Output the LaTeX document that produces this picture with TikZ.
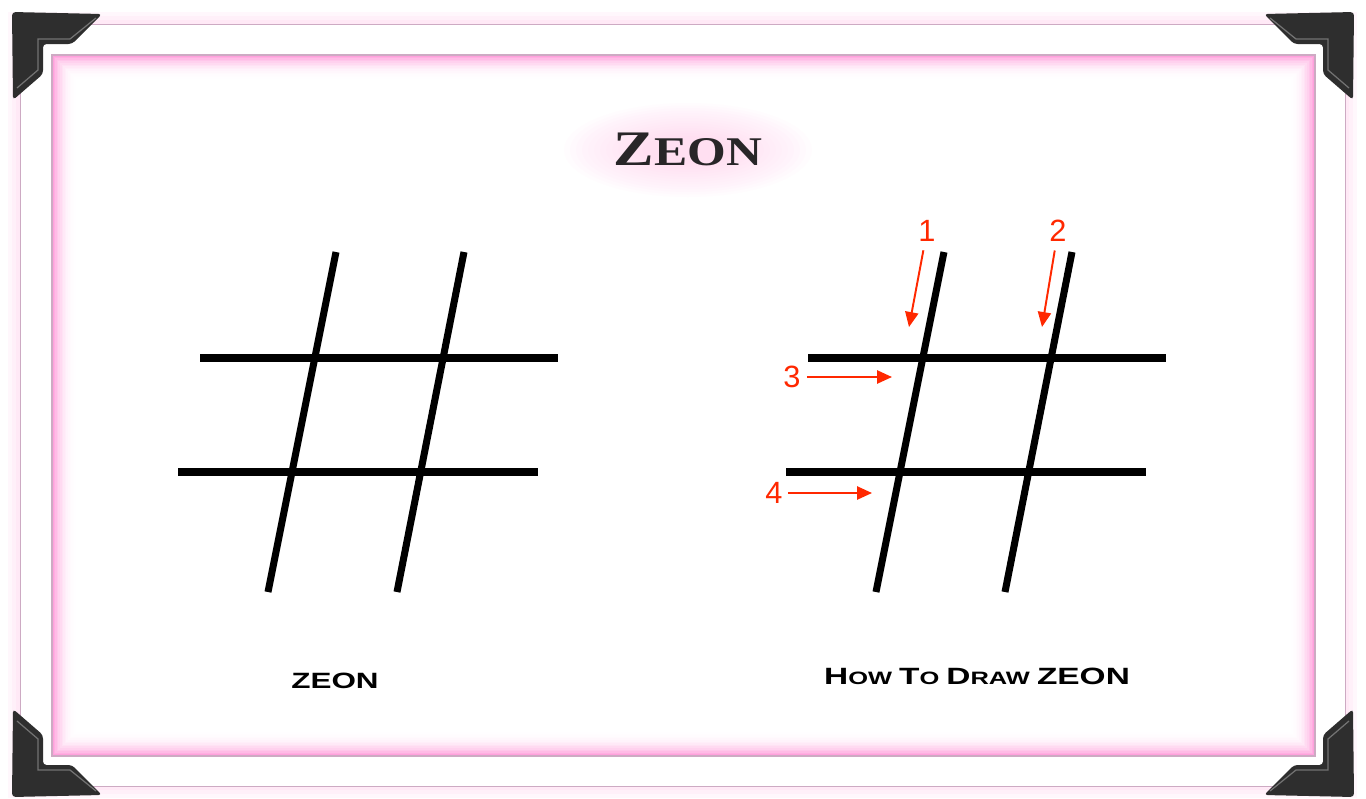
\documentclass[tikz,border=0pt]{standalone}
\usepackage{fontspec}
\setmainfont{Liberation Sans}
\newfontfamily\titlefont{Liberation Serif}[FakeStretch=1.22]
\newfontfamily\capfont{Liberation Sans}[FakeStretch=1.42]
\usetikzlibrary{arrows.meta, positioning}
\usepackage{xcolor}
\definecolor{glow}{RGB}{255,160,220}
\definecolor{rim}{RGB}{205,170,195}
\definecolor{mred}{RGB}{255,40,0}
\definecolor{ink}{RGB}{40,38,40}
\newcommand{\bigc}{\fontsize{13.4}{14}\selectfont}
\newcommand{\smallc}{\fontsize{10.2}{11}\selectfont}

\begin{document}
\begin{tikzpicture}[x=0.02cm, y=-0.02cm,
  bar/.style={line width=4pt},
  arr/.style={-{Triangle[length=8.5pt,width=7.5pt]},mred,line width=1.1pt},
  num/.style={text=mred,font=\fontsize{17.5}{18}\selectfont,inner sep=0pt},
  captext/.style={font=\capfont\bfseries,anchor=base,inner sep=0pt},
  bracket/.pic={
    \fill[black!82,rounded corners=2pt] (0,0) -- (90,2) -- (60,32) -- (31,32)
      -- (31,62) -- (1,88) -- cycle;
    \draw[black!55,line width=0.7pt] (84,6) -- (58,27) -- (26,27) -- (26,58) -- (5,76);
  }
]
\useasboundingbox (0,0) rectangle (1366,798);
\fill[white] (0,0) rectangle (1366,798);

% frame with glow
\foreach \w in {14,9,5}
  \draw[glow,opacity=0.08,line width=\w pt] (20,24) rectangle (1345,786);
\draw[rim,fill=white] (20,24) rectangle (1345,786);
\fill[glow] (52,55) rectangle (1315,756);
\foreach \i in {1,...,16}{
  \pgfmathsetmacro\c{100*(1-\i/16)^2.5}
  \pgfmathsetmacro\s{1.6*\i}
  \fill[glow!\c!white] (52+\s,55+\s) rectangle (1315-\s,756-\s);
}
\draw[rim,line width=0.6pt] (52,55) rectangle (1315,756);

\pic at (12,12) {bracket};
\pic[xscale=-1] at (1354,12) {bracket};
\pic[yscale=-1] at (12,797) {bracket};
\pic[rotate=180] at (1354,797) {bracket};

% title
\foreach \r in {1,...,14}
  \fill[glow,opacity=0.025] (688,150) ellipse ({40+6*\r} and {12+2.5*\r});
\node[font=\titlefont\bfseries,text=ink,anchor=base,inner sep=0pt] (title) at (688,165)
  {\fontsize{28.3}{29}\selectfont Z\fontsize{23.2}{24}\selectfont EON};

% the two symbols
\foreach \dx/\n in {0/a,608/b}{
  \begin{scope}[shift={(\dx,0)}]
    \coordinate (\n v1t) at (336,252); \coordinate (\n v1b) at (268,592);
    \coordinate (\n v2t) at (464,252); \coordinate (\n v2b) at (397,592);
    \coordinate (\n h1l) at (200,358); \coordinate (\n h1r) at (558,358);
    \coordinate (\n h2l) at (178,472); \coordinate (\n h2r) at (538,472);
  \end{scope}
  \draw[bar] (\n v1t) -- (\n v1b); \draw[bar] (\n v2t) -- (\n v2b);
  \draw[bar] (\n h1l) -- (\n h1r); \draw[bar] (\n h2l) -- (\n h2r);
}

% stroke order
\node[num] (n1) at (927,231) {1};
\node[num] (n2) at (1058,231) {2};
\node[num] (n3) at (792,377) {3};
\node[num] (n4) at (774,493) {4};
\coordinate (t1) at (909,327); \coordinate (t2) at (1042,327);
\coordinate (t3) at (892,377); \coordinate (t4) at (872,493);
\draw[arr,shorten <=0.17cm] (n1) -- (t1);
\draw[arr,shorten <=0.17cm] (n2) -- (t2);
\draw[arr,shorten <=0.12cm] (n3) -- (t3);
\draw[arr,shorten <=0.1cm] (n4) -- (t4);

\node[captext] (capa) at (335,688) {\fontsize{12.6}{13}\selectfont ZEON};
\node[captext] (capb) at (977,684)
  {\bigc H\smallc OW \bigc T\smallc O \bigc D\smallc RAW \bigc ZEON};
\end{tikzpicture}
\end{document}
